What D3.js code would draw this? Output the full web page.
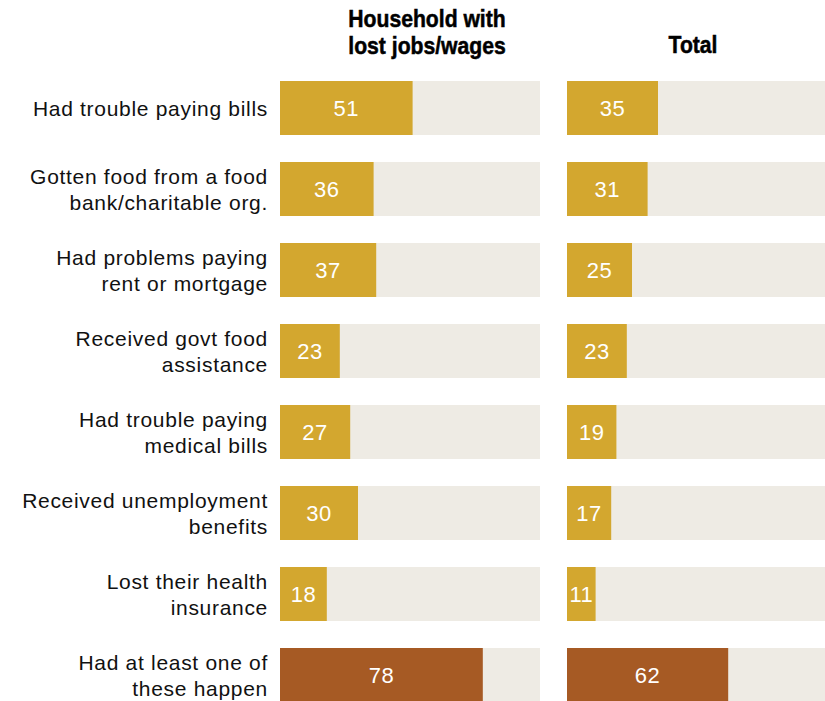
<!DOCTYPE html>
<html>
<head>
<meta charset="utf-8">
<script src="https://cdn.jsdelivr.net/npm/d3@7"></script>
<style>
  html, body { margin: 0; padding: 0; background: #fff; }
  svg { display: block; }
</style>
</head>
<body>
<svg id="chart" width="825" height="701"></svg>
<script>
// Share of adults who say each happened since the outbreak
const categories = [
  ["Had trouble paying bills"],
  ["Gotten food from a food", "bank/charitable org."],
  ["Had problems paying", "rent or mortgage"],
  ["Received govt food", "assistance"],
  ["Had trouble paying", "medical bills "],
  ["Received unemployment", "benefits"],
  ["Lost their health", "insurance"],
  ["Had at least one of", "these happen"]
];
const lostJobsValues = [51, 36, 37, 23, 27, 30, 18, 78];
const totalValues = [35, 31, 25, 23, 19, 17, 11, 62];
const panelTitles = [["Household with", "lost jobs/wages"], ["Total"]];

const svg = d3.select("#chart");
const gold = "#D3A72F", brown = "#A65A24", track = "#EEEBE4";

// 8 rows, 54px bars on an 81px step
const y = d3.scaleBand()
  .domain(d3.range(categories.length))
  .range([81, 81 + 81 * categories.length - 27])
  .paddingInner(27 / 81)
  .paddingOuter(0);

const panels = [
  { values: lostJobsValues, x0: 280, x1: 540, title: panelTitles[0] },
  { values: totalValues, x0: 567, x1: 827, title: panelTitles[1] }
];

// Row labels
const labels = svg.append("g");
categories.forEach((lines, i) => {
  const cy = y(i) + y.bandwidth() / 2;
  const lh = 26;
  const start = cy - (lines.length - 1) * lh / 2;
  const t = labels.append("text")
    .attr("text-anchor", "end")
    .attr("font-family", "Liberation Sans, Arial, sans-serif")
    .attr("font-size", 21)
    .attr("letter-spacing", 0.7)
    .attr("fill", "#111");
  lines.forEach((ln, j) => {
    t.append("tspan")
      .attr("x", 268)
      .attr("y", start + j * lh)
      .attr("dy", "0.36em")
      .text(ln);
  });
});

panels.forEach(p => {
  const x = d3.scaleLinear().domain([0, 100]).range([p.x0, p.x1]);
  const g = svg.append("g");

  // panel title
  const cx = p.title.length > 1 ? 427 : 693;
  const baseY = p.title.length > 1 ? 27 : 53;
  const tt = g.append("text")
    .attr("text-anchor", "middle")
    .attr("transform", `translate(${cx},0) scale(0.9,1)`)
    .attr("font-family", "Liberation Sans, Arial, sans-serif")
    .attr("font-weight", "bold")
    .attr("font-size", 23.5)
    .attr("fill", "#000")
    .attr("stroke", "#000")
    .attr("stroke-width", 0.5);
  p.title.forEach((ln, j) => {
    tt.append("tspan").attr("x", 0).attr("y", baseY + j * 27).text(ln);
  });

  // background tracks
  g.selectAll("rect.track")
    .data(p.values)
    .join("rect")
    .attr("class", "track")
    .attr("x", x(0))
    .attr("y", (d, i) => y(i))
    .attr("width", x(100) - x(0))
    .attr("height", y.bandwidth())
    .attr("fill", track);

  // value bars
  g.selectAll("rect.bar")
    .data(p.values)
    .join("rect")
    .attr("class", "bar")
    .attr("x", x(0))
    .attr("y", (d, i) => y(i))
    .attr("width", d => x(d) - x(0))
    .attr("height", y.bandwidth())
    .attr("fill", (d, i) => i === p.values.length - 1 ? brown : gold);

  // value labels
  g.selectAll("text.val")
    .data(p.values)
    .join("text")
    .attr("class", "val")
    .attr("x", d => (x(0) + x(d)) / 2)
    .attr("y", (d, i) => y(i) + y.bandwidth() / 2)
    .attr("dy", "0.36em")
    .attr("text-anchor", "middle")
    .attr("font-family", "Liberation Sans, Arial, sans-serif")
    .attr("font-size", 22)
    .attr("letter-spacing", 0.5)
    .attr("fill", "#fff")
    .text(d => d);
});
</script>
</body>
</html>
